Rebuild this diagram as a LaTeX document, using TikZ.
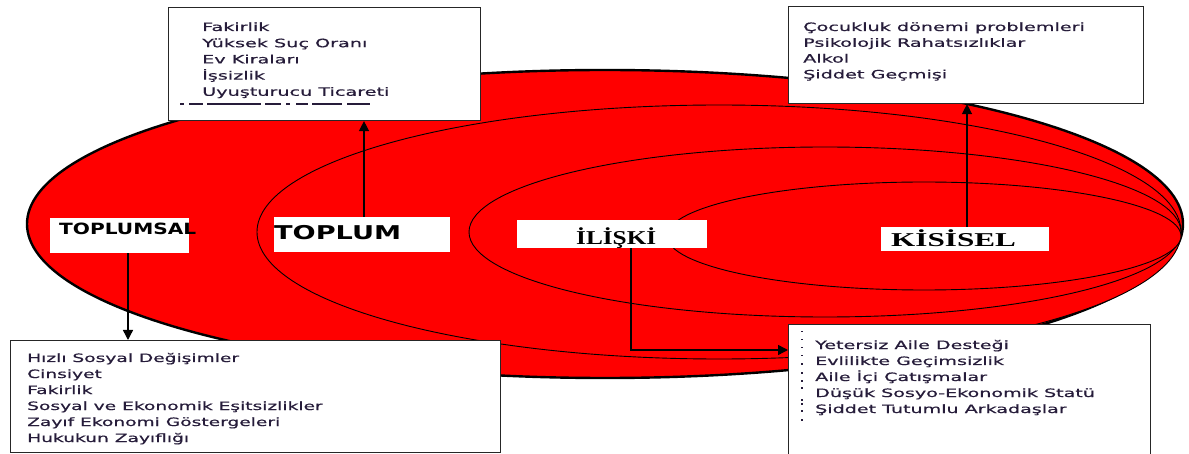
\documentclass[tikz,border=0pt]{standalone}
\usepackage{fontspec}
\usepackage{graphicx}
\setmainfont{DejaVu Sans}
\newfontfamily\lserif{Liberation Serif}
\newfontfamily\listfont[FakeBold=0.5]{DejaVu Sans}
\usetikzlibrary{arrows.meta}
\definecolor{ellred}{RGB}{255,0,0}
\definecolor{txt}{RGB}{38,28,58}
\newcommand{\wtext}[2]{\scalebox{#1}[1]{#2}}
\begin{document}
\begin{tikzpicture}[x=1pt,y=-1pt,
  listbox/.style={draw=black!85, line width=1.1pt, fill=white, inner sep=0pt, anchor=north west},
  labelbox/.style={fill=white, inner sep=0pt, anchor=north west},
  listline/.style={anchor=base west, inner sep=0pt, text=txt, font=\listfont\fontsize{11.5}{14}\selectfont},
  lbl/.style={anchor=base west, inner sep=0pt, text=black},
  arr/.style={line width=1.4pt, -{Triangle[length=10pt,width=10pt]}},
  ring/.style={draw=black, line width=0.9pt, fill=ellred}
]
\useasboundingbox (0,0) rectangle (1189,454);
\clip (0,0) rectangle (1189,454);
% rings
\draw[ring, line width=2.4pt] (605,224) ellipse [x radius=578, y radius=154];
\draw[ring] (719,232) ellipse [x radius=462, y radius=127];
\draw[ring] (825,232) ellipse [x radius=356, y radius=85];
\draw[ring] (924,236) ellipse [x radius=257, y radius=54];
% label boxes
\node[labelbox, minimum width=139, minimum height=35] (toplumsal) at (50,218) {};
\node[labelbox, minimum width=176, minimum height=35] (toplum) at (274,217) {};
\node[labelbox, minimum width=190, minimum height=28] (iliski) at (517,220) {};
\node[labelbox, minimum width=168, minimum height=24] (kisisel) at (881,227) {};
\node[lbl, font=\bfseries\fontsize{15.5}{18}\selectfont] (toplumsalt) at (59,235) {\wtext{1.30}{TOPLUMSAL}};
\node[lbl, font=\bfseries\fontsize{19}{22}\selectfont] (toplumt) at (274,240) {\wtext{1.43}{TOPLUM}};
\node[lbl, font=\lserif\bfseries\fontsize{19.6}{22}\selectfont] (iliskit) at (576,245) {\wtext{1.29}{İLİŞKİ}};
\node[lbl, font=\lserif\bfseries\fontsize{19.6}{22}\selectfont] (kisiselt) at (891,247) {\wtext{1.59}{KİSİSEL}};
% list boxes
\node[listbox, minimum width=312, minimum height=113] (tl) at (168,7) {};
\node[listbox, minimum width=355, minimum height=97] (tr) at (788,6) {};
\node[listbox, minimum width=490, minimum height=112] (bl) at (10,340) {};
\node[listbox, minimum width=362, minimum height=140] (br) at (788,324) {};
% list texts
\foreach \t [count=\i] in {Fakirlik, Yüksek Suç Oranı, Ev Kiraları, İşsizlik, Uyuşturucu Ticareti}
  \node[listline] (tl\i) at (202,{31+16.2*(\i-1)}) {\wtext{1.67}{\t}};
\foreach \t [count=\i] in {Çocukluk dönemi problemleri, Psikolojik Rahatsızlıklar, Alkol, Şiddet Geçmişi}
  \node[listline] (tr\i) at (803,{31+15.8*(\i-1)}) {\wtext{1.67}{\t}};
\foreach \t [count=\i] in {Hızlı Sosyal Değişimler, Cinsiyet, Fakirlik, Sosyal ve Ekonomik Eşitsizlikler, Zayıf Ekonomi Göstergeleri, Hukukun Zayıflığı}
  \node[listline] (bl\i) at (27,{362+16*(\i-1)}) {\wtext{1.62}{\t}};
\foreach \t [count=\i] in {Yetersiz Aile Desteği, Evlilikte Geçimsizlik, Aile İçi Çatışmalar, Düşük Sosyo-Ekonomik Statü, Şiddet Tutumlu Arkadaşlar}
  \node[listline] (br\i) at (815,{349+16*(\i-1)}) {\wtext{1.66}{\t}};
% dashed remnant line in top-left box
\draw[txt, line width=1.3pt, dash pattern=on 4pt off 5pt on 14pt off 4pt on 54pt off 4pt on 16pt off 5pt on 4pt off 6pt on 12pt off 4pt on 30pt off 5pt on 23pt] (180,104) -- (370,104);
% dot remnants in bottom-right box
\foreach \y in {331,339,347,355,363,372,380,387,399,403,410,419}
  \fill[txt] (801,\y) rectangle (803,\y+1.5);
% connectors
\coordinate (a1) at (128,0);
\coordinate (a2) at (364,0);
\coordinate (a3) at (631,350);
\coordinate (a4) at (967,0);
\draw[arr] (toplumsal.south -| a1) -- (bl.north -| a1);
\draw[arr] (toplum.north -| a2) -- (tl.south -| a2);
\draw[arr] (iliski.south -| a3) |- (br.west |- a3);
\draw[arr] (kisisel.north -| a4) -- (tr.south -| a4);
\end{tikzpicture}
\end{document}
